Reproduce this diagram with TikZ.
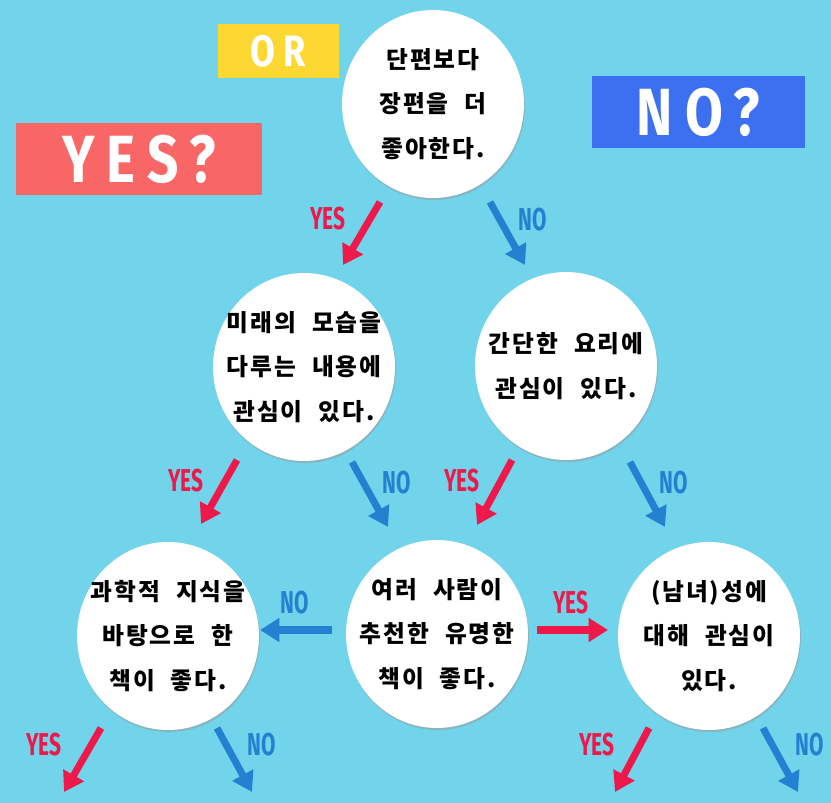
\documentclass[tikz,border=0pt]{standalone}
\usepackage{fontspec}
\newfontfamily\kr{Noto Sans CJK KR}[LetterSpace=8,WordSpace=2.2]
\newfontfamily\tagfont{Fira Sans}[FakeStretch=0.82,LetterSpace=18]
\newfontfamily\labfont{Fira Sans}[FakeStretch=0.66]
\usetikzlibrary{arrows.meta,shapes.geometric,shadows}

\definecolor{sky}{RGB}{114,212,235}
\definecolor{yesred}{RGB}{238,24,74}
\definecolor{noblue}{RGB}{36,128,208}
\definecolor{boxyellow}{RGB}{253,215,50}
\definecolor{boxred}{RGB}{248,102,102}
\definecolor{boxblue}{RGB}{61,112,240}

\tikzset{
  bubble/.style={ellipse, fill=white, minimum width=3.64cm, minimum height=3.76cm,
    inner xsep=-20pt, inner ysep=-14pt, align=center, font=\kr\bfseries\fontsize{13.5}{25.5}\selectfont,
    drop shadow={shadow xshift=0.5pt, shadow yshift=-1.2pt, fill=black!40}},
  tagbox/.style={text=white, inner sep=0pt, font=\tagfont\bfseries\fontsize{38}{38}\selectfont},
  yesarr/.style={-{Triangle[length=11pt,width=13pt]}, line width=4pt, yesred},
  noarr/.style={-{Triangle[length=11pt,width=13pt]}, line width=4pt, noblue},
  yeslab/.style={text=yesred, inner sep=0pt, font=\labfont\bfseries\fontsize{18}{18}\selectfont},
  nolab/.style={text=noblue, inner sep=0pt, font=\labfont\bfseries\fontsize{18}{18}\selectfont}
}

\begin{document}
\begin{tikzpicture}[x=0.02cm, y=-0.02cm]
  \fill[sky] (0,0) rectangle (831,803);
  \useasboundingbox (0,0) rectangle (831,803);

  % question bubbles
  \node[bubble] (long)   at (433,104) {단편보다\\장편을 더\\좋아한다.};
  \node[bubble] (future) at (304,367) {미래의 모습을\\다루는 내용에\\관심이 있다.};
  \node[bubble] (cook)   at (566,366) {간단한 요리에\\관심이 있다.};
  \node[bubble] (sci)    at (168,636) {과학적 지식을\\바탕으로 한\\책이 좋다.};
  \node[bubble] (famous) at (437,634) {여러 사람이\\추천한 유명한\\책이 좋다.};
  \node[bubble] (sex)    at (709,636) {(남녀)성에\\대해 관심이\\있다.};

  % title tags
  \node[tagbox, fill=boxyellow, minimum width=2.42cm, minimum height=1.08cm,
        font=\tagfont\bfseries\fontsize{25}{25}\selectfont] (or) at (278.5,51) {OR};
  \node[tagbox, fill=boxred, minimum width=4.92cm, minimum height=1.44cm] (yes) at (139,159) {YES?};
  \node[tagbox, fill=boxblue, minimum width=4.26cm, minimum height=1.44cm] (no) at (698.5,112) {NO?};

  % arrow ends
  \coordinate (a1) at (380,202);  \coordinate (b1) at (343,265);
  \coordinate (a2) at (490,202);  \coordinate (b2) at (525,265);
  \coordinate (a3) at (237,460);  \coordinate (b3) at (201,524);
  \coordinate (a4) at (352,462);  \coordinate (b4) at (388,527);
  \coordinate (a5) at (512,460);  \coordinate (b5) at (477,525);
  \coordinate (a6) at (630,462);  \coordinate (b6) at (665,527);
  \coordinate (a7) at (332,630);  \coordinate (b7) at (260,630);
  \coordinate (a8) at (537,630);  \coordinate (b8) at (608,630);
  \coordinate (a9) at (101,728);  \coordinate (b9) at (64,792);
  \coordinate (a10) at (217,728); \coordinate (b10) at (252,792);
  \coordinate (a11) at (649,728); \coordinate (b11) at (615,792);
  \coordinate (a12) at (763,728); \coordinate (b12) at (798,792);

  \draw[yesarr] (a1) -- (b1);
  \draw[noarr]  (a2) -- (b2);
  \draw[yesarr] (a3) -- (b3);
  \draw[noarr]  (a4) -- (b4);
  \draw[yesarr] (a5) -- (b5);
  \draw[noarr]  (a6) -- (b6);
  \draw[noarr]  (a7) -- (b7);
  \draw[yesarr] (a8) -- (b8);
  \draw[yesarr] (a9) -- (b9);
  \draw[noarr]  (a10) -- (b10);
  \draw[yesarr] (a11) -- (b11);
  \draw[noarr]  (a12) -- (b12);

  % answer labels
  \node[yeslab] (y1) at (328,219) {YES};
  \node[nolab]  (n1) at (533,220) {NO};
  \node[yeslab] (y2) at (186,481) {YES};
  \node[nolab]  (n2) at (397,483) {NO};
  \node[yeslab] (y3) at (462,481) {YES};
  \node[nolab]  (n3) at (674,483) {NO};
  \node[nolab]  (n4) at (295,603) {NO};
  \node[yeslab] (y4) at (571,603) {YES};
  \node[yeslab] (y5) at (44,745) {YES};
  \node[nolab]  (n5) at (262,745) {NO};
  \node[yeslab] (y6) at (597,745) {YES};
  \node[nolab]  (n6) at (810,745) {NO};
\end{tikzpicture}
\end{document}
